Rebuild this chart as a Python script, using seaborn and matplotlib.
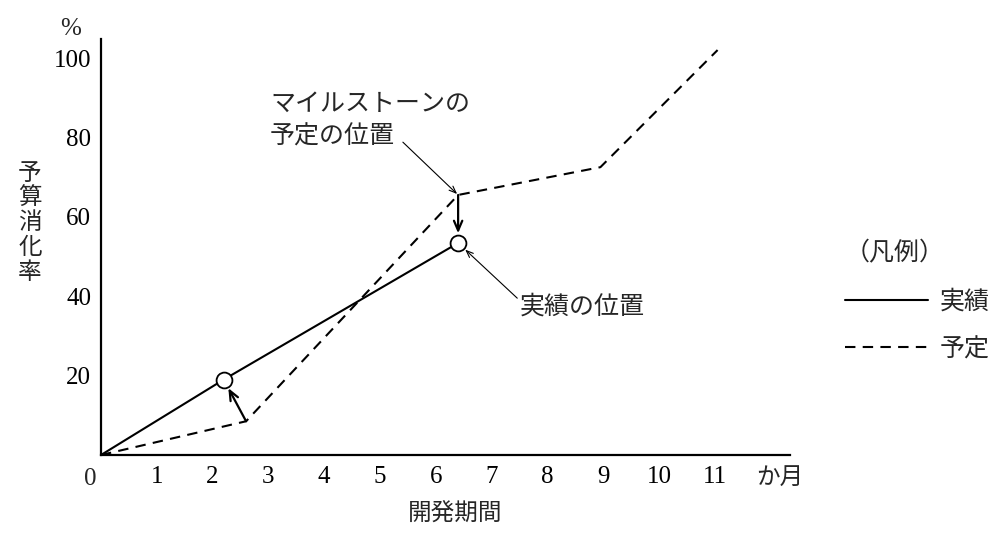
import matplotlib
matplotlib.use("Agg")
import matplotlib.pyplot as plt
import seaborn as sns

# ---- data ----
plan_x = [0, 2.6, 6.4, 8.95, 11.05]
plan_y = [0, 8.5, 65.5, 72.5, 102]
actual_x = [0, 2.2, 6.4]
actual_y = [0, 19, 53.4]
x_ticks = [1, 2, 3, 4, 5, 6, 7, 8, 9, 10, 11]
y_ticks = [20, 40, 60, 80, 100]
label_actual = "実績"
label_plan = "予定"
legend_title = "（凡例）"
x_label = "開発期間"
y_label = "予算消化率"
x_unit = "か月"
y_unit = "%"
note_milestone = ["マイルストーンの", "予定の位置"]
note_actual = "実績の位置"

sns.set_style("white")
plt.rcParams['font.family'] = ['Liberation Serif', 'Noto Sans CJK JP', 'DejaVu Sans']
plt.rcParams['axes.unicode_minus'] = False

fig = plt.figure(figsize=(10.08, 5.44), dpi=100)
ax = fig.add_axes([101/1008, 1-455/544, (790-101)/1008, (455-39)/544])

lw = 1.5
sns.lineplot(x=actual_x, y=actual_y, ax=ax, color="black", linewidth=lw,
             label=label_actual, sort=False)
sns.lineplot(x=plan_x, y=plan_y, ax=ax, color="black", linewidth=lw,
             linestyle=(0, (5, 3.5)), label=label_plan, sort=False)
sns.scatterplot(x=actual_x[1:], y=actual_y[1:], ax=ax, s=130, color="white",
                edgecolor="black", linewidth=1.3, zorder=5, legend=False)

ax.set_xlim(0, (790-101)/55.8)
ax.set_ylim(0, (455-39)/3.97)
ax.set_xticks(x_ticks)
ax.set_yticks(y_ticks)
ax.tick_params(axis='both', length=0, labelsize=18, colors="black")
ax.tick_params(axis='x', pad=8)
ax.tick_params(axis='y', pad=7)
for s in ["top", "right"]:
    ax.spines[s].set_visible(False)
for s in ["left", "bottom"]:
    ax.spines[s].set_linewidth(1.6)
    ax.spines[s].set_color("black")
ax.grid(False)

# origin label
ax.annotate("0", xy=(0, 0), xytext=(-8, -17), textcoords="offset points",
            ha="center", va="center", fontsize=18, annotation_clip=False)
# units
ax.annotate(y_unit, xy=(0, ax.get_ylim()[1]), xytext=(-22, 7), textcoords="offset points",
            ha="center", va="center", fontsize=18, annotation_clip=False)
ax.annotate(x_unit, xy=(ax.get_xlim()[1], 0), xytext=(-7, -17), textcoords="offset points",
            ha="center", va="center", fontsize=17, annotation_clip=False)

# axis labels
fig.text(455/1008, 1-515/544, x_label, ha="center", va="center", fontsize=17)
for i, ch in enumerate(y_label):
    fig.text(30/1008, 1-(174 + 24.7*i)/544, ch, ha="center", va="center", fontsize=17)

# arrows from plan to actual
thick = dict(arrowstyle="->,head_length=0.7,head_width=0.3", color="black", lw=1.6,
             shrinkA=0, shrinkB=7)
ax.annotate("", xy=(actual_x[1], actual_y[1]), xytext=(plan_x[1], plan_y[1]),
            arrowprops=thick)
ax.annotate("", xy=(actual_x[2], actual_y[2]), xytext=(plan_x[2], plan_y[2]),
            arrowprops=thick)

# notes
thin = dict(arrowstyle="->,head_length=0.5,head_width=0.2", color="black", lw=0.8,
            shrinkA=0, shrinkB=1)
ax.annotate("", xy=(plan_x[2], plan_y[2]), xytext=(5.41, 78.8), arrowprops=thin)
ax.text(3.03, 88.2, note_milestone[0], ha="left", va="center", fontsize=18)
ax.text(3.03, 80.1, note_milestone[1], ha="left", va="center", fontsize=18)
thin2 = dict(thin, shrinkB=7)
ax.annotate("", xy=(actual_x[2], actual_y[2]), xytext=(7.46, 39.5), arrowprops=thin2)
ax.text(7.5, 37.3, note_actual, ha="left", va="center", fontsize=18)

# legend
leg = ax.legend(title=legend_title, loc="upper left",
                bbox_to_anchor=(845/1008, 1-241/544), bbox_transform=fig.transFigure,
                frameon=False, fontsize=18, title_fontsize=18, handlelength=3.3,
                handletextpad=0.5, labelspacing=0.98, borderpad=0, borderaxespad=0)
leg._legend_box.align = "left"
for h in leg.legend_handles:
    h.set_linewidth(1.5)

fig.savefig("out.png", dpi=100)
